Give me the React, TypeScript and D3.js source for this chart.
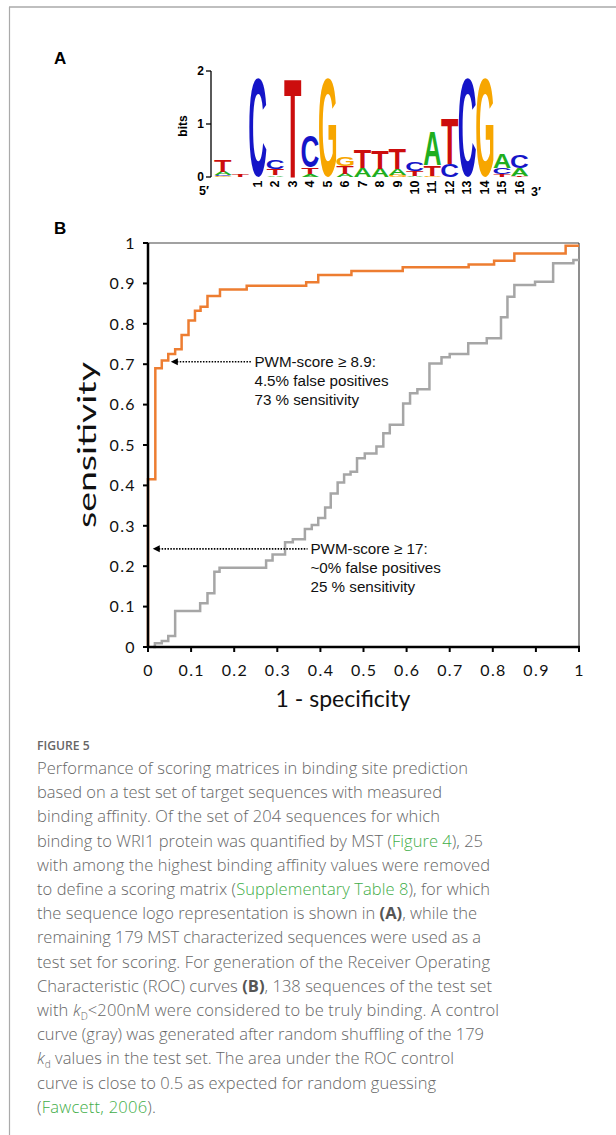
import React, { useMemo } from 'react';
import * as d3 from 'd3';

// sequence logo (panel A): two leading unnumbered positions, then 1..16
const logoLabels = ['', '', '1', '2', '3', '4', '5', '6', '7', '8', '9', '10', '11', '12', '13', '14', '15', '16'];
const bitsA = [0.06, 0, 0, 0.03, 0, 0.05, 0, 0.06, 0.17, 0.16, 0.12, 0.02, 0.63, 0, 0, 0, 0.26, 0.14];
const bitsC = [0.03, 0, 1.87, 0.16, 0, 0.59, 0, 0, 0, 0, 0, 0.16, 0, 0.25, 1.87, 0, 0.12, 0.24];
const bitsG = [0.01, 0, 0, 0, 0, 0, 1.87, 0.17, 0, 0, 0.04, 0, 0.02, 0, 0, 1.87, 0, 0];
const bitsT = [0.23, 0.04, 0, 0.11, 1.87, 0.13, 0, 0.15, 0.35, 0.34, 0.39, 0.1, 0.2, 0.85, 0, 0, 0.05, 0.02];
const bitsTicks = [0, 1, 2];

// ROC curves (panel B), corner points of the step curves
const pwmFpr = [0, 0, 0.017, 0.032, 0.047, 0.063, 0.078, 0.094, 0.109, 0.122, 0.138, 0.167, 0.229, 0.367, 0.395, 0.472, 0.591, 0.744, 0.803, 0.85, 0.969, 1];
const pwmTpr = [0, 0.415, 0.69, 0.709, 0.725, 0.737, 0.772, 0.808, 0.832, 0.842, 0.869, 0.885, 0.894, 0.903, 0.921, 0.931, 0.94, 0.947, 0.956, 0.974, 0.993, 0.993];
const ctrlFpr = [0.012, 0.016, 0.032, 0.047, 0.063, 0.121, 0.138, 0.154, 0.166, 0.274, 0.289, 0.318, 0.336, 0.364, 0.38, 0.395, 0.411, 0.424, 0.44, 0.455, 0.47, 0.485, 0.503, 0.53, 0.546, 0.561, 0.592, 0.608, 0.625, 0.653, 0.681, 0.7, 0.743, 0.786, 0.819, 0.834, 0.85, 0.898, 0.94, 0.987, 1];
const ctrlTpr = [0, 0.009, 0.015, 0.027, 0.089, 0.108, 0.133, 0.186, 0.196, 0.214, 0.229, 0.259, 0.267, 0.292, 0.302, 0.319, 0.345, 0.38, 0.407, 0.427, 0.434, 0.467, 0.479, 0.496, 0.529, 0.55, 0.603, 0.628, 0.638, 0.702, 0.717, 0.725, 0.752, 0.764, 0.816, 0.867, 0.896, 0.904, 0.95, 0.958, 0.958];
const rocTicks = [0, 0.1, 0.2, 0.3, 0.4, 0.5, 0.6, 0.7, 0.8, 0.9, 1];

// annotations: tpr the arrow points at, fpr of the tip and of the dotted line's end
const notes = [
  { tpr: 0.706, tipFpr: 0.053, endFpr: 0.24, lines: ['PWM-score \u2265 8.9:', '4.5% false positives', '73 % sensitivity'] },
  { tpr: 0.243, tipFpr: 0.011, endFpr: 0.37, lines: ['PWM-score \u2265 17:', '~0% false positives', '25 % sensitivity'] },
];

type Seg = { t: string; s?: 'link' | 'bold' | 'it' | 'sub' };
const caption: Seg[][] = [
  [{ t: 'Performance of scoring matrices in binding site prediction' }],
  [{ t: 'based on a test set of target sequences with measured' }],
  [{ t: 'binding affinity. Of the set of 204 sequences for which' }],
  [{ t: 'binding to WRI1 protein was quantified by MST (' }, { t: 'Figure 4', s: 'link' }, { t: '), 25' }],
  [{ t: 'with among the highest binding affinity values were removed' }],
  [{ t: 'to define a scoring matrix (' }, { t: 'Supplementary Table 8', s: 'link' }, { t: '), for which' }],
  [{ t: 'the sequence logo representation is shown in ' }, { t: '(A)', s: 'bold' }, { t: ', while the' }],
  [{ t: 'remaining 179 MST characterized sequences were used as a' }],
  [{ t: 'test set for scoring. For generation of the Receiver Operating' }],
  [{ t: 'Characteristic (ROC) curves ' }, { t: '(B)', s: 'bold' }, { t: ', 138 sequences of the test set' }],
  [{ t: 'with ' }, { t: 'k', s: 'it' }, { t: 'D', s: 'sub' }, { t: '<200nM were considered to be truly binding. A control' }],
  [{ t: 'curve (gray) was generated after random shuffling of the 179' }],
  [{ t: 'k', s: 'it' }, { t: 'd', s: 'sub' }, { t: ' values in the test set. The area under the ROC control' }],
  [{ t: 'curve is close to 0.5 as expected for random guessing' }],
  [{ t: '(' }, { t: 'Fawcett, 2006', s: 'link' }, { t: ').' }],
];
const captionWidths = [431, 405, 403, 446, 453, 453, 440, 444, 453, 455, 462, 447, 417, 399, 119];

const baseColor: Record<string, string> = { A: '#1fae1f', C: '#1515c8', G: '#f7a600', T: '#cc0d0d' };
const logoFont = 'Liberation Sans, Arial, sans-serif';

// ink extents of each glyph, so the letters fill their cell like a real logo
const useGlyphBoxes = () =>
  useMemo(() => {
    const ctx = document.createElement('canvas').getContext('2d');
    const out: Record<string, { l: number; r: number; a: number; d: number }> = {};
    ['A', 'C', 'G', 'T'].forEach((b) => {
      let box = { l: -2, r: 70, a: 72, d: 1 };
      if (ctx) {
        ctx.font = `bold 100px "Liberation Sans", Arial, sans-serif`;
        const m = ctx.measureText(b);
        if (m.actualBoundingBoxAscent) {
          box = { l: m.actualBoundingBoxLeft, r: m.actualBoundingBoxRight, a: m.actualBoundingBoxAscent, d: m.actualBoundingBoxDescent };
        }
      }
      out[b] = box;
    });
    return out;
  }, []);

const Logo = () => {
  const x = d3.scaleLinear().domain([0, 17]).range([223, 223 + 17 * 17.45]);
  const y = d3.scaleLinear().domain([0, 2]).range([177, 71]);
  const w = 17.2;
  const boxes = useGlyphBoxes();
  const cols = logoLabels.map((lab, i) => {
    const stack = [
      { b: 'A', h: bitsA[i] },
      { b: 'C', h: bitsC[i] },
      { b: 'G', h: bitsG[i] },
      { b: 'T', h: bitsT[i] },
    ].filter((d) => d.h > 0).sort((a, b) => a.h - b.h);
    let acc = 0;
    return stack.map((d) => {
      const y0 = acc;
      acc += d.h;
      return { ...d, y0, i };
    });
  });
  return (
    <g>
      <line x1={211} x2={211} y1={y(2)} y2={y(0)} stroke="#000" strokeWidth={1.3} />
      {bitsTicks.map((t) => (
        <g key={t}>
          <line x1={206} x2={211} y1={y(t)} y2={y(t)} stroke="#000" strokeWidth={1.3} />
          <text x={204} y={y(t)} dy="0.35em" textAnchor="end" fontSize={12} fontWeight={700} fontFamily={logoFont}>{t}</text>
        </g>
      ))}
      <text transform={`translate(187,126) rotate(-90)`} textAnchor="middle" fontSize={12} fontWeight={700}
        fontFamily={logoFont}>bits</text>
      {cols.flat().map((d, k) => {
        const bx = boxes[d.b];
        const ph = y(0) - y(d.h);
        const sx = w / (bx.l + bx.r);
        const sy = ph / (bx.a + bx.d);
        return (
          <g key={k} transform={`translate(${x(d.i) - w / 2},${y(d.y0)}) scale(${sx},${sy}) translate(${bx.l},${-bx.d})`}>
            <text x={0} y={0} fontSize={100} fontWeight={700} fill={baseColor[d.b]} fontFamily={logoFont}>{d.b}</text>
          </g>
        );
      })}
      {logoLabels.map((lab, i) => lab && (
        <text key={i} transform={`translate(${x(i)},180.5) rotate(-90)`} textAnchor="end" dominantBaseline="central"
          fontSize={12.5} fontWeight={700} fontFamily={logoFont}>{lab}</text>
      ))}
      <text x={204} y={195} textAnchor="middle" fontSize={12.5} fontWeight={700} fontFamily={logoFont}>5′</text>
      <text x={536} y={196} textAnchor="middle" fontSize={12.5} fontWeight={700} fontFamily={logoFont}>3′</text>
    </g>
  );
};

const Roc = () => {
  const x = d3.scaleLinear().domain([0, 1]).range([148, 579]);
  const y = d3.scaleLinear().domain([0, 1]).range([647, 243]);
  const line = d3.line<[number, number]>().x((d) => x(d[0])).y((d) => y(d[1])).curve(d3.curveStepAfter);
  const pwm = pwmFpr.map((f, i) => [f, pwmTpr[i]] as [number, number]);
  const ctrl = ctrlFpr.map((f, i) => [f, ctrlTpr[i]] as [number, number]);
  const tickFont = 'Lato, Carlito, sans-serif';
  const noteFont = 'Liberation Sans, Arial, sans-serif';
  return (
    <g>
      <line x1={x(0)} x2={x(1)} y1={y(1)} y2={y(1)} stroke="#444" strokeWidth={1.2} />
      <line x1={x(1)} x2={x(1)} y1={y(1)} y2={y(0)} stroke="#444" strokeWidth={1.2} />
      <path d={line(ctrl) || ''} fill="none" stroke="#a6a6a6" strokeWidth={2.5} />
      <path d={line(pwm) || ''} fill="none" stroke="#ed7d31" strokeWidth={2.5} />
      <line x1={x(0)} x2={x(0)} y1={y(1)} y2={y(0) + 1} stroke="#000" strokeWidth={2.5} />
      <line x1={x(0) - 1} x2={x(1) + 1} y1={y(0)} y2={y(0)} stroke="#000" strokeWidth={2.5} />
      {rocTicks.map((t) => (
        <g key={'y' + t}>
          <line x1={x(0) - 5} x2={x(0)} y1={y(t)} y2={y(t)} stroke="#000" strokeWidth={2} />
          <text x={136} y={y(t)} dy="0.36em" textAnchor="end" fontSize={16} letterSpacing={1.4}
            fontFamily={tickFont} fill="#111">{t}</text>
        </g>
      ))}
      {rocTicks.map((t) => (
        <g key={'x' + t}>
          <line x1={x(t)} x2={x(t)} y1={y(0)} y2={y(0) + 5} stroke="#000" strokeWidth={2} />
          <text x={x(t) + 0.7} y={675.5} textAnchor="middle" fontSize={16} letterSpacing={1.4}
            fontFamily={tickFont} fill="#111">{t}</text>
        </g>
      ))}
      <text transform="translate(96,445) rotate(-90)" textAnchor="middle" fontSize={25}
        textLength={166} lengthAdjust="spacingAndGlyphs" fontFamily={tickFont} fill="#111">sensitivity</text>
      <text x={343} y={707} textAnchor="middle" fontSize={23} fontFamily={tickFont} fill="#111">1 - specificity</text>
      {notes.map((n, k) => {
        const yy = y(n.tpr);
        const tip = x(n.tipFpr);
        return (
          <g key={k}>
            <line x1={tip + 6} x2={x(n.endFpr)} y1={yy} y2={yy} stroke="#000" strokeWidth={1.6} strokeDasharray="1.5 1.4" />
            <path d={`M${tip},${yy}L${tip + 7},${yy - 3.5}L${tip + 7},${yy + 3.5}Z`} fill="#000" />
            {n.lines.map((l, j) => (
              <text key={j} x={x(n.endFpr) + 3} y={yy + 5.5 + j * 18.9} fontSize={15.2} fontFamily={noteFont} fill="#111">{l}</text>
            ))}
          </g>
        );
      })}
    </g>
  );
};

const App = () => {
  const capFont = 'Open Sans, sans-serif';
  const lineY = d3.scaleLinear().domain([0, 1]).range([774, 798.2]);
  return (
    <svg width={616} height={1135} style={{ position: 'absolute', left: 0, top: 0, background: '#fff' }}>
      <line x1={9.5} x2={9.5} y1={7} y2={1135} stroke="#aaa" strokeWidth={1.2} />
      <line x1={9} x2={616} y1={7} y2={7} stroke="#aaa" strokeWidth={1.6} />
      <text x={54} y={64} fontSize={17} fontWeight={700} fontFamily={logoFont}>A</text>
      <text x={54} y={234} fontSize={17} fontWeight={700} fontFamily={logoFont}>B</text>
      <Logo />
      <Roc />
      <text x={37} y={749.5} fontSize={12.5} fontWeight={600} fontFamily={capFont} fill="#666"
        textLength={52.6} lengthAdjust="spacingAndGlyphs">FIGURE 5</text>
      {caption.map((segs, i) => (
        <text key={i} x={37} y={lineY(i)} fontSize={16.5} fontWeight={300} fontFamily={capFont} fill="#666"
          textLength={captionWidths[i]} lengthAdjust="spacing">
          {segs.map((s, j) => {
            const prevSub = j > 0 && segs[j - 1].s === 'sub';
            const dy = s.s === 'sub' ? 3.5 : prevSub ? -3.5 : 0;
            return (
              <tspan key={j} dy={dy || undefined}
                fill={s.s === 'link' ? '#3fae49' : s.s === 'bold' ? '#555' : undefined}
                fontWeight={s.s === 'bold' ? 700 : undefined}
                fontStyle={s.s === 'it' ? 'italic' : undefined}
                fontSize={s.s === 'sub' ? 10 : undefined}>{s.t}</tspan>
            );
          })}
        </text>
      ))}
    </svg>
  );
};

export default App;
